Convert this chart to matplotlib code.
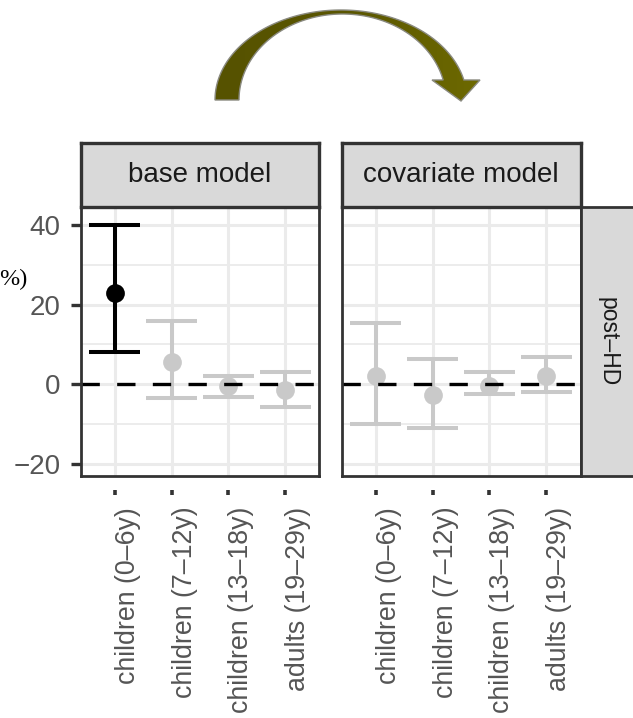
import numpy as np
import matplotlib.pyplot as plt
from matplotlib.patches import Polygon
from matplotlib.colors import LinearSegmentedColormap
from matplotlib.transforms import ScaledTranslation

# age groups and model estimates (% change, with 95% interval)
groups = ["children (0–6y)", "children (7–12y)", "children (13–18y)", "adults (19–29y)"]
models = ["base model", "covariate model"]
row_label = "post–HD"

base_est = [23.0, 5.7, -0.3, -1.5]
base_lo = [8.0, -3.5, -3.3, -5.7]
base_hi = [40.0, 16.0, 2.1, 3.1]
base_sig = [True, False, False, False]

cov_est = [2.0, -2.8, -0.3, 2.1]
cov_lo = [-10.0, -11.0, -2.5, -2.0]
cov_hi = [15.4, 6.4, 3.0, 6.9]
cov_sig = [False, False, False, False]

panels = [
    (base_est, base_lo, base_hi, base_sig),
    (cov_est, cov_lo, cov_hi, cov_sig),
]

W, H = 633, 718
FONT = "Liberation Sans"
DARK = "#333333"
GRID = "#EBEBEB"
STRIP = "#D9D9D9"
SIG_COL = "#000000"
NS_COL = "#C9C9C9"


def box(x0, y0, x1, y1):
    # pixel box (top-left origin) -> figure fraction rect
    return [x0 / W, 1 - y1 / H, (x1 - x0) / W, (y1 - y0) / H]


fig = plt.figure(figsize=(W / 100, H / 100), dpi=100)

panel_x = [(80.5, 319.5), (341.5, 580.5)]
top, bottom = 207, 476
x = np.arange(1, len(groups) + 1)

for i, (est, lo, hi, sig) in enumerate(panels):
    x0, x1 = panel_x[i]
    ax = fig.add_axes(box(x0, top, x1, bottom))
    ax.set_xlim(0.4, 4.6)
    ax.set_ylim(-23.0, 44.5)
    ax.set_facecolor("white")

    # grid
    ax.set_yticks([-20, 0, 20, 40])
    ax.set_yticks([-10, 10, 30], minor=True)
    ax.set_xticks(x)
    ax.grid(True, which="major", color=GRID, lw=2.2, zorder=0)
    ax.grid(True, which="minor", axis="y", color=GRID, lw=1.3, zorder=0)
    ax.set_axisbelow(True)

    est = np.array(est)
    lo = np.array(lo)
    hi = np.array(hi)
    cols = [SIG_COL if s else NS_COL for s in sig]

    # gray intervals first, significant ones on top
    order = sorted(range(len(x)), key=lambda k: sig[k])
    for k in order:
        c = cols[k]
        ax.vlines(x[k], lo[k], hi[k], color=c, lw=2.9, zorder=3)
        ax.hlines([lo[k], hi[k]], x[k] - 0.45, x[k] + 0.45, color=c, lw=2.9, zorder=3)
        ax.plot(x[k], est[k], "o", color=c, ms=13.5, mew=0, zorder=4)

    ax.axhline(0, color="black", lw=2.4, ls=(0, (5.5, 5.2)), zorder=5)

    for sp in ax.spines.values():
        sp.set_color(DARK)
        sp.set_linewidth(2.0)
        sp.set_zorder(6)

    # y axis only on the first panel
    ax.tick_params(axis="x", which="both", length=0, labelbottom=False)
    ax.tick_params(axis="y", which="minor", length=0)
    if i == 0:
        ax.tick_params(axis="y", which="major", length=7.2, width=2.4, color=DARK,
                       pad=7, labelsize=20, labelcolor="#555555")
        for t in ax.get_yticklabels():
            t.set_fontfamily(FONT)
    else:
        ax.tick_params(axis="y", which="major", length=0, labelleft=False)

    # category labels sit a little below the panel
    sec = ax.secondary_xaxis(-0.052)
    sec.set_xticks(x)
    sec.set_xticklabels(groups, rotation=90, fontsize=19.3, color="#555555",
                        family=FONT, va="top", ha="center")
    sec.spines["bottom"].set_visible(False)
    sec.tick_params(axis="x", length=3.6, width=2.6, color=DARK, pad=8.5)
    shift = ScaledTranslation(0.13, 0, fig.dpi_scale_trans)
    for t in sec.get_xticklabels():
        t.set_transform(t.get_transform() + shift)

    # facet strip on top
    st = fig.add_axes(box(x0, 143, x1, top))
    st.set_facecolor(STRIP)
    st.set_xticks([])
    st.set_yticks([])
    for sp in st.spines.values():
        sp.set_color(DARK)
        sp.set_linewidth(2.4)
    st.text(0.5, 0.5, models[i], ha="center", va="center", fontsize=20,
            family=FONT, color="#1A1A1A", transform=st.transAxes)

# row strip on the right
rs = fig.add_axes(box(580.5, top, 646, bottom))
rs.set_facecolor(STRIP)
rs.set_xticks([])
rs.set_yticks([])
for sp in rs.spines.values():
    sp.set_color(DARK)
    sp.set_linewidth(2.0)
rs.text(0.42, 0.5, row_label, ha="center", va="center", rotation=-90,
        fontsize=16.5, family=FONT, color="#1A1A1A", transform=rs.transAxes)

# overlay in pixel space for the curved arrow and the axis title tail
ov = fig.add_axes([0, 0, 1, 1], zorder=10)
ov.set_xlim(0, W)
ov.set_ylim(H, 0)
ov.axis("off")
ov.patch.set_alpha(0)

t_out = np.linspace(np.pi, np.arcsin(20 / 90), 120)
outer = np.column_stack([341 + 126 * np.cos(t_out), 100 - 90 * np.sin(t_out)])
t_in = np.linspace(np.arcsin(20 / 86), np.pi, 120)
inner = np.column_stack([342.5 + 103.5 * np.cos(t_in), 100 - 86 * np.sin(t_in)])
head = np.array([[480, 80], [461, 101], [432, 80]])
pts = np.vstack([outer, head, inner])

arrow = Polygon(pts, closed=True, facecolor="none", edgecolor="#8A8A80", lw=1.0, zorder=3)
ov.add_patch(arrow)
grad = np.linspace(0, 1, 256).reshape(1, -1)
olive = LinearSegmentedColormap.from_list("olive", ["#565200", "#5a5600", "#6E6A00"])
im = ov.imshow(grad, cmap=olive, extent=[210, 485, 105, 5], aspect="auto", zorder=2)
im.set_clip_path(arrow)

ov.text(27, 279, "%)", ha="right", va="center", fontsize=17.5,
        family="Liberation Serif", color="black")

fig.savefig("out.png", dpi=100)
